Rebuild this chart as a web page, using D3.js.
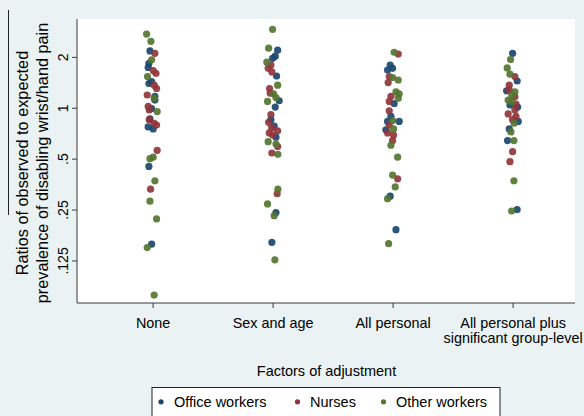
<!DOCTYPE html>
<html>
<head>
<meta charset="utf-8">
<script src="https://cdn.jsdelivr.net/npm/d3@7"></script>
<style>
  html, body { margin: 0; padding: 0; background: #eaf2f3; }
  svg { display: block; font-family: "Liberation Sans", Arial, Helvetica, sans-serif; }
</style>
</head>
<body>
<svg id="chart" width="584" height="416"></svg>
<script>
// ---------------- DATA ----------------
const categories = ["None", "Sex and age", "All personal", "All personal plus|significant group-level"];
const seriesNames = ["Office workers", "Nurses", "Other workers"];
const yTickValues = [2, 1, 0.5, 0.25, 0.125];
const yTickLabels = ["2", "1", ".5", ".25", ".125"];

// values per category (index 0..3) for each series; jitter in category units
const officeValues = [
  [2.17, 1.83, 1.73, 1.43, 1.39, 1.17, 1.11, 0.99, 0.86, 0.77, 0.75, 0.45, 0.156],
  [2.19, 2.02, 1.96, 1.54, 1.10, 1.01, 0.85, 0.78, 0.67, 0.24, 0.16],
  [1.79, 1.67, 1.71, 1.06, 0.89, 0.83, 0.83, 0.74, 0.30, 0.19],
  [2.10, 1.44, 1.26, 1.04, 1.01, 0.83, 0.75, 0.64, 0.25]
];
const officeJitter = [
  [-0.022, -0.031, -0.037, -0.008, -0.031, 0.019, 0.019, -0.008, -0.022, -0.037, 0.005, -0.031, -0.008],
  [0.042, 0.022, 0, 0.033, 0.055, 0.022, -0.014, 0.013, 0.028, 0.028, -0.006],
  [-0.02, -0.042, 0, 0.013, -0.014, 0.055, -0.042, -0.056, -0.02, 0.028],
  [0, 0.038, -0.05, -0.022, 0.042, 0.047, -0.028, -0.042, 0.038]
];
const nurseValues = [
  [2.10, 1.66, 1.60, 1.36, 1.30, 1.19, 1.02, 0.97, 0.85, 0.81, 0.79, 0.56, 0.33],
  [1.79, 1.71, 1.63, 1.30, 1.22, 0.91, 0.82, 0.76, 0.73, 0.71, 0.69, 0.59, 0.54, 0.31],
  [2.08, 1.53, 1.41, 1.17, 1.09, 0.96, 0.79, 0.71, 0.69, 0.64, 0.38],
  [1.53, 1.36, 1.27, 1.16, 1.05, 0.97, 0.92, 0.89, 0.85, 0.55, 0.48]
];
const nurseJitter = [
  [0.019, 0.005, 0.028, 0.013, 0.033, -0.045, -0.037, -0.028, -0.028, 0.013, 0.033, 0.038, -0.017],
  [-0.014, -0.037, -0.006, -0.025, -0.02, -0.014, -0.033, -0.008, 0.042, -0.028, 0, 0.042, -0.006, 0.038],
  [0.047, -0.028, -0.037, -0.014, -0.028, -0.028, -0.028, -0.042, 0.008, 0, 0.042],
  [0.019, -0.028, -0.028, 0.019, 0.028, 0.019, -0.037, 0.028, 0, 0, -0.022]
];
const otherValues = [
  [2.73, 2.47, 1.92, 1.53, 1.14, 0.95, 0.51, 0.50, 0.37, 0.28, 0.22, 0.149, 0.078],
  [2.91, 2.25, 1.86, 1.36, 1.21, 1.15, 1.09, 0.63, 0.61, 0.53, 0.33, 0.27, 0.23, 0.126],
  [2.13, 1.51, 1.46, 1.24, 1.21, 1.14, 0.84, 0.75, 0.60, 0.51, 0.40, 0.34, 0.29, 0.157],
  [1.93, 1.72, 1.58, 1.24, 1.19, 1.11, 1.09, 0.81, 0.72, 0.64, 0.37, 0.245]
];
const otherJitter = [
  [-0.05, -0.014, -0.008, -0.042, 0.013, 0.038, 0.005, -0.022, 0.019, -0.022, 0.033, -0.045, 0.013],
  [0, -0.033, -0.048, 0.042, 0.008, 0.028, -0.042, -0.037, 0.028, 0.044, 0.044, -0.042, 0.013, 0.019],
  [0.013, 0, 0.047, 0.028, 0.055, 0.047, 0, 0.008, -0.014, 0.042, 0, 0.022, -0.042, -0.033],
  [-0.017, -0.045, -0.022, 0.019, -0.008, -0.037, -0.008, 0.013, -0.014, 0.011, 0.011, -0.008]
];
const seriesColors = ["#1a476f", "#90353b", "#55752f"];

// ---------------- CHART ----------------
const svg = d3.select("#chart");
const plot = { left: 77, right: 575, top: 19, bottom: 303 };

const x = d3.scaleLinear().domain([0.37, 4.52]).range([plot.left, plot.right]);
const y = d3.scaleLog().base(2).domain([0.07, 3.35]).range([plot.bottom, plot.top]);

// background + plot region
svg.append("rect").attr("width", 584).attr("height", 416).attr("fill", "#eaf2f3");
svg.append("rect")
  .attr("x", plot.left).attr("y", plot.top)
  .attr("width", plot.right - plot.left).attr("height", plot.bottom - plot.top)
  .attr("fill", "#ffffff");

// stray border line at far left
svg.append("line").attr("x1", 8.5).attr("x2", 8.5).attr("y1", 10).attr("y2", 215)
  .attr("stroke", "#222").attr("stroke-width", 1);

// points
const seriesData = [
  { values: officeValues, jitter: officeJitter },
  { values: nurseValues, jitter: nurseJitter },
  { values: otherValues, jitter: otherJitter }
];
seriesData.forEach((s, si) => {
  const pts = [];
  s.values.forEach((arr, ci) => arr.forEach((v, k) => pts.push({ c: ci + 1 + s.jitter[ci][k], v })));
  svg.append("g").selectAll("circle").data(pts).join("circle")
    .attr("cx", d => x(d.c))
    .attr("cy", d => y(d.v))
    .attr("r", 3.6)
    .attr("fill", seriesColors[si])
    .attr("fill-opacity", 0.92);
});

// y axis
const yAxis = d3.axisLeft(y).tickValues(yTickValues)
  .tickFormat((d, i) => yTickLabels[i]).tickSize(5).tickPadding(0);
const gy = svg.append("g").attr("transform", `translate(${plot.left},0)`).call(yAxis);
gy.select(".domain").attr("stroke", "#3a3a3a").attr("d", `M0,${plot.top}V${plot.bottom}`);
gy.selectAll(".tick line").attr("stroke", "#3a3a3a");
gy.selectAll(".tick text")
  .attr("x", null).attr("dy", null)
  .attr("text-anchor", "middle")
  .attr("transform", "translate(-9,0) rotate(-90)")
  .attr("font-size", 14)
  .attr("font-family", "Liberation Sans, Arial, sans-serif")
  .attr("fill", "#000");

// x axis
const xAxis = d3.axisBottom(x).tickValues([1, 2, 3, 4]).tickFormat(() => "").tickSize(5);
const gx = svg.append("g").attr("transform", `translate(0,${plot.bottom})`).call(xAxis);
gx.select(".domain").attr("stroke", "#3a3a3a").attr("d", `M${plot.left},0H${plot.right}`);
gx.selectAll(".tick line").attr("stroke", "#3a3a3a");
gx.selectAll(".tick").each(function (d, i) {
  const lines = categories[i].split("|");
  const t = d3.select(this).append("text")
    .attr("text-anchor", "middle")
    .attr("fill", "#000")
    .attr("font-size", 14.4)
    .attr("font-family", "Liberation Sans, Arial, sans-serif");
  lines.forEach((ln, j) => {
    t.append("tspan").attr("x", 0).attr("y", 24.5 + j * 15.5).text(ln);
  });
});

// axis titles
svg.append("text")
  .attr("x", (plot.left + plot.right) / 2 + 0.5).attr("y", 376)
  .attr("text-anchor", "middle").attr("font-size", 14.5).attr("fill", "#000")
  .text("Factors of adjustment");

const yTitle = svg.append("g").attr("transform", `translate(0,163) rotate(-90)`);
yTitle.append("text").attr("x", 0).attr("y", 28.3)
  .attr("text-anchor", "middle").attr("font-size", 16.3).attr("fill", "#000")
  .text("Ratios of observed to expected");
yTitle.append("text").attr("x", 0).attr("y", 47.5)
  .attr("text-anchor", "middle").attr("font-size", 16.3).attr("fill", "#000")
  .text("prevalence of disabling wrist/hand pain");

// legend
const legend = svg.append("g");
legend.append("rect").attr("x", 152).attr("y", 387.5).attr("width", 348).attr("height", 40)
  .attr("fill", "#fff").attr("stroke", "#222").attr("stroke-width", 1);
const legX = [161, 297.5, 383.5];
const legTextX = [174, 310, 396];
seriesNames.forEach((name, i) => {
  legend.append("circle").attr("cx", legX[i]).attr("cy", 401.8).attr("r", 2.6).attr("fill", seriesColors[i]);
  legend.append("text").attr("x", legTextX[i]).attr("y", 407.3)
    .attr("font-size", 14.5).attr("fill", "#000").text(name);
});
</script>
</body>
</html>
